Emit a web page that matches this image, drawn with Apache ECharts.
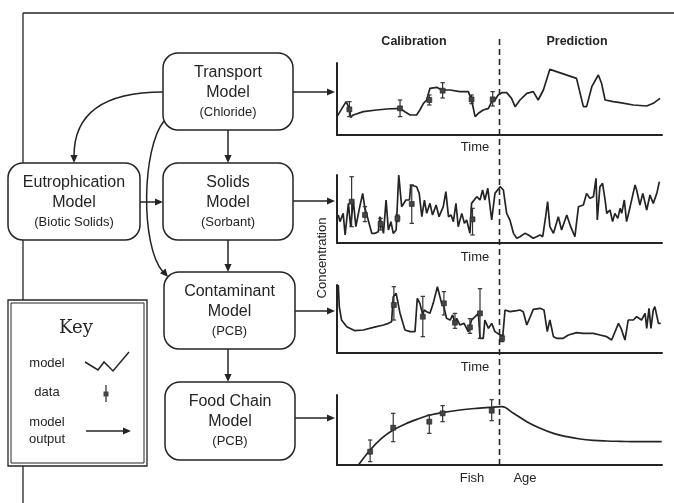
<!DOCTYPE html>
<html><head><meta charset="utf-8">
<script src="https://cdn.jsdelivr.net/npm/echarts@6/dist/echarts.min.js"></script>
<style>html,body{margin:0;padding:0;background:#fff}#c{width:674px;height:503px}</style>
</head><body><div id="c"></div>
<script>
// ---- data (time scale 0..100, concentration 0..100) ----
const DIVIDE_AT = 50;
const transportModel = [[0,25.5],[2.8,46.3],[3.8,37],[4.2,24.5],[5,27.8],[8.1,32.4],[12.2,34.7],[15.3,36.1],[19.4,37],[20.9,32.4],[22.5,27.8],[24.5,27.8],[25.5,34.7],[26.6,44],[27.6,48.6],[28.6,64.8],[30.7,66.2],[32.2,62.5],[34.8,62.5],[37.8,60.2],[40.4,60.2],[41.4,48.6],[42.5,25.5],[43.5,30.1],[45,34.7],[46.6,37],[47.6,46.3],[48.6,48.6],[49.6,55.6],[50.7,58.8],[52.2,58.8],[53.7,50.9],[54.8,39.4],[56.3,48.6],[58.4,57.9],[60.4,60.2],[61.9,48.6],[63.5,62.5],[65.5,91.2],[73.7,78.7],[75.8,39.4],[76.8,39.4],[78.4,67.1],[80.4,83.3],[81.4,71.8],[82.5,48.6],[85,46.3],[87.1,44.9],[91.2,41.7],[95.3,40.3],[97.3,44],[99.4,50.9]];
const transportData = [[3.8,35.6,25.5,46.3],[19.4,37,25.5,48.6],[28.4,48.6,41.7,55.6],[32.5,61.6,51.4,72.7],[41.4,49.5,43.5,55.6],[47.9,49.5,40.3,60.2]];

const solidsModel = [[0.4,41.2],[0.9,31.4],[1.9,43.6],[2.5,11.8],[3.5,58.3],[4.2,24],[5,63.2],[5.8,24],[6.9,51],[7.9,73],[8.6,51],[9.6,33.8],[10.7,14.2],[11.7,14.2],[12.7,16.7],[13.2,38.7],[14.3,14.2],[15.1,63.2],[15.8,19.1],[16.6,31.4],[17.3,14.2],[18.2,19.1],[19,100],[19.9,53.4],[21.2,63.2],[22.3,63.2],[22.7,85.3],[24.5,82.8],[25.3,73],[26.1,38.7],[26.9,63.2],[27.6,43.6],[28.6,58.3],[29.4,41.2],[30.5,55.9],[31.4,38.7],[32.7,53.4],[33.5,75.5],[34.3,38.7],[35.1,41.2],[35.8,31.4],[36.6,58.3],[37.3,24],[38.4,43.6],[39.2,28.9],[39.9,33.8],[40.9,14.2],[41.4,58.3],[43,68.1],[44,63.2],[44.8,77.9],[45.5,63.2],[46.4,80.4],[47.6,33.8],[48.6,73],[50.2,82.8],[51.2,77.9],[52.2,43.6],[53.2,33.8],[54.3,14.2],[55.3,6.9],[56.3,9.3],[57.8,14.2],[58.9,11.8],[60.4,6.9],[62.5,11.8],[63.3,9.3],[64.2,38.7],[64.8,60.8],[65.5,24],[66.6,14.2],[68.1,38.7],[69.1,19.1],[70.7,41.2],[71.9,24],[73.2,9.3],[74.3,53.4],[75.8,55.9],[76.8,73],[77.8,65.7],[78.9,68.1],[79.7,95.1],[80.1,33.8],[80.9,82.8],[81.7,87.7],[82.5,63.2],[83,43.6],[84,48.5],[84.8,31.4],[85.5,43.6],[86.4,36.3],[87.1,51],[87.6,43.6],[88.4,63.2],[89.1,31.4],[90.2,53.4],[91.7,85.3],[92.2,77.9],[93.2,55.9],[94.1,73],[95.3,48.5],[96.3,70.6],[97.3,58.3],[98.4,73],[99.2,90.2]];
const solidsData = [[4.5,60.8,24,97.5],[8.6,41.2,31.4,53.4],[13.4,27.9,19.1,36.3],[18.6,36.3,31.4,41.2],[23,57.4,28.9,85.3],[41.7,34.8,11.8,51]];

const pcbModel = [[0.4,100],[0.7,68.1],[1.4,48.5],[3,38.7],[5.5,32.8],[8.1,33.8],[11.2,37.7],[14.3,41.2],[15.8,43.6],[16.8,46.1],[17.3,82.8],[18.2,87.7],[19.4,58.3],[20.9,33.8],[22.5,31.4],[24,31.4],[24.7,80.4],[25.5,73],[26.4,55.9],[26.8,63.2],[27.6,60.8],[28.6,58.3],[29.6,73],[30.9,97.5],[32.2,73],[32.9,68.1],[33.7,51],[34.8,48.5],[35.6,55.9],[36.3,43.6],[36.8,51],[37.8,41.2],[39.1,43.6],[40.4,31.4],[41.4,48.5],[42.5,53.4],[43.5,58.3],[44,21.6],[45,21.6],[45.5,48.5],[46.6,36.3],[47.6,43.6],[48.6,31.4],[50.2,26.5],[51,24],[51.7,63.2],[53.2,60.8],[55.3,62.3],[56.3,63.2],[57.3,60.8],[58.4,41.2],[60.4,64.2],[62.5,65.7],[63.7,63.2],[64.7,31.4],[65.5,48.5],[66.6,24],[67.6,21.6],[69.6,21.6],[71.2,26.5],[73.7,29.9],[75.8,28.9],[78.9,28.9],[80.9,26.5],[83,24],[84.5,19.1],[86.6,43.6],[87.4,36.3],[88.6,19.1],[89.6,48.5],[91.2,48.5],[92.2,53.4],[93.7,48.5],[94.8,58.3],[95.3,36.3],[96,65.7],[96.6,36.3],[97.3,63.2],[97.8,68.1],[98.9,43.6],[99.6,43.6]];
const pcbData = [[17.5,70.6,48.5,97.5],[26.4,53.4,24,83.3],[32.9,73,55.9,90.2],[36.3,44.6,36.3,58.3],[40.9,37.7,28.9,50.5],[44,58.3,21.6,94.6],[50.8,21.6,16.7,26.5]];

const fishModel = [[6.6,0],[10.2,21.4],[13.7,38.1],[17.3,50],[21.4,59.5],[25.5,66.7],[28.6,71.4],[32.7,75.2],[37.8,78.6],[43,81],[47.1,82.4],[50.7,83.3],[54.3,73.8],[58.4,61.9],[62.5,52.4],[66.6,45.2],[70.7,40.5],[74.8,37.1],[78.9,35.2],[83,34.3],[87.1,33.8],[92.2,33.3],[99.9,33.3]];
const fishData = [[10.2,19,4.8,35.7],[17.3,53.3,33.3,73.8],[28.4,61.9,45.2,71.4],[32.5,73.8,61.9,84.8],[47.6,77.6,63.3,93.3]];

const panelLabels = ['Time','Time','Time'];
const INK = '#242424';
const SANS = '"Liberation Sans", Arial, sans-serif';

// ---- layout ----
const G = [
  {left:337, top:63, width:325, height:72},
  {left:337, top:175, width:325, height:68},
  {left:337, top:285, width:325, height:68},
  {left:337, top:395, width:325, height:70},
  {left:337, top:35, width:325, height:430}
];
const models = [transportModel, solidsModel, pcbModel, fishModel];
const datas = [transportData, solidsData, pcbData, fishData];

function errRender(params, api){
  const x = api.value(0), y = api.value(1), lo = api.value(2), hi = api.value(3);
  const p = api.coord([x,y]), pl = api.coord([x,lo]), ph = api.coord([x,hi]);
  const cap = 2.2, s = 2.5, st = {stroke:'#333', lineWidth:1.2};
  return {type:'group', children:[
    {type:'line', shape:{x1:p[0],y1:pl[1],x2:p[0],y2:ph[1]}, style:st},
    {type:'line', shape:{x1:p[0]-cap,y1:pl[1],x2:p[0]+cap,y2:pl[1]}, style:st},
    {type:'line', shape:{x1:p[0]-cap,y1:ph[1],x2:p[0]+cap,y2:ph[1]}, style:st},
    {type:'rect', shape:{x:p[0]-s,y:p[1]-s,width:2*s,height:2*s}, style:{fill:'#444', stroke:'#222', lineWidth:0.6}}
  ]};
}

const xAxis = [], yAxis = [], series = [];
G.forEach((g,i)=>{
  const vis = i < 4;
  xAxis.push({gridIndex:i, type:'value', min:0, max:100, show:vis,
    axisLine:{show:vis, lineStyle:{color:INK, width:2}}, axisTick:{show:false}, axisLabel:{show:false}, splitLine:{show:false}});
  yAxis.push({gridIndex:i, type:'value', min:0, max:(i<4?100:1), show:vis,
    axisLine:{show:vis, lineStyle:{color:INK, width:2}}, axisTick:{show:false}, axisLabel:{show:false}, splitLine:{show:false}});
});
models.forEach((m,i)=>{
  series.push({type:'line', xAxisIndex:i, yAxisIndex:i, data:m, symbol:'none', smooth: i===3 ? 0.4 : false,
    lineStyle:{color:INK, width:1.7}, silent:true, animation:false, z:3});
  series.push({type:'custom', xAxisIndex:i, yAxisIndex:i, data:datas[i], renderItem:errRender, encode:{x:0,y:1}, animation:false, z:4});
});
series.push({type:'line', xAxisIndex:4, yAxisIndex:4, data:[[DIVIDE_AT,0],[DIVIDE_AT,1]], symbol:'none',
  lineStyle:{color:INK, width:1.6, type:[6,4]}, animation:false, z:5});

// ---- flowchart graphics ----
function txt(t, x, y, size, extra){
  return {type:'text', x, y, z:20, style:Object.assign({text:t, fill:INK, font: size+'px '+SANS,
    align:'center', verticalAlign:'middle', textAlign:'center', textVerticalAlign:'middle'}, extra||{})};
}
function seg(x1,y1,x2,y2,w){ return {type:'line', z:8, shape:{x1,y1,x2,y2}, style:{stroke:INK, lineWidth:w||1.5}}; }
function head(x,y,ang){
  const L=8, W=3.6, bx=x-L*Math.cos(ang), by=y-L*Math.sin(ang), px=-Math.sin(ang)*W, py=Math.cos(ang)*W;
  return {type:'polygon', z:9, shape:{points:[[x,y],[bx+px,by+py],[bx-px,by-py]]}, style:{fill:INK}};
}
function arrow(x1,y1,x2,y2){ const a=Math.atan2(y2-y1,x2-x1); return [seg(x1,y1,x2-4*Math.cos(a),y2-4*Math.sin(a)), head(x2,y2,a)]; }
function box(x,y,w,h,lines){
  const cx = x + w/2, offs=[19.5,40,59.5];
  const els = [{type:'rect', z:10, shape:{x,y,width:w,height:h,r:15}, style:{fill:'#fff', stroke:INK, lineWidth:1.5}}];
  lines.forEach((l,k)=>els.push(txt(l[0], cx, y+offs[k], l[1])));
  return els;
}
const graphic = [].concat(
  [seg(23,13,674,13,1.3), seg(23,13,23,503,1.3)],
  box(163,53,130,77,[['Transport',16],['Model',16],['(Chloride)',13]]),
  box(8,163,132,77,[['Eutrophication',16],['Model',16],['(Biotic Solids)',13]]),
  box(163,163,130,77,[['Solids',16],['Model',16],['(Sorbant)',13]]),
  box(164,272,131,77,[['Contaminant',16],['Model',16],['(PCB)',13]]),
  box(165,382,130,78,[['Food Chain',16],['Model',16],['(PCB)',13]]),
  arrow(228,130,228,163), arrow(228,240,228,272), arrow(228,349,228,382), arrow(140,202,163,202),
  arrow(293,92,335,92), arrow(293,201,335,201), arrow(295,311,335,311), arrow(295,418,335,418),
  [{type:'bezierCurve', z:8, shape:{x1:163,y1:92,cpx1:105,cpy1:92,cpx2:74,cpy2:112,x2:74,y2:156}, style:{stroke:INK,lineWidth:1.5,fill:null}},
   head(74,163,Math.PI/2),
   {type:'bezierCurve', z:8, shape:{x1:164,y1:121,cpx1:142,cpy1:148,cpx2:140,cpy2:245,x2:163,y2:272}, style:{stroke:INK,lineWidth:1.5,fill:null}},
   head(168,277,Math.atan2(7,6))],
  // key
  [{type:'rect', z:10, shape:{x:8,y:300,width:139,height:166}, style:{fill:'#fff', stroke:INK, lineWidth:1.3}},
   {type:'rect', z:11, shape:{x:11,y:303,width:133,height:160}, style:{fill:'#fff', stroke:INK, lineWidth:1}},
   txt('Key',76,328,18,{font:'18px "DejaVu Serif", serif'}),
   txt('model',47,363,13), txt('data',47,392,13), txt('model',47,422,13), txt('output',47,439,13),
   {type:'polyline', z:20, shape:{points:[[85,362],[98,370],[104,362],[113,371],[129,352]]}, style:{stroke:INK,lineWidth:1.5,fill:null}},
   {type:'line', z:20, shape:{x1:106,y1:385,x2:106,y2:402}, style:{stroke:INK,lineWidth:1.2}},
   {type:'rect', z:21, shape:{x:103.5,y:391.5,width:5,height:5}, style:{fill:'#444'}}],
  arrow(86,431,131,431).map(e=>Object.assign(e,{z:20})),
  // chart labels
  [txt('Calibration',414,42,12.5,{font:'bold 12.5px '+SANS}), txt('Prediction',577,42,12.5,{font:'bold 12.5px '+SANS}),
   txt(panelLabels[0],475,147,13), txt(panelLabels[1],475,257,13), txt(panelLabels[2],475,367,13),
   txt('Fish',472,478,13), txt('Age',525,478,13),
   {type:'text', x:322, y:258, rotation:Math.PI/2, z:20, style:{text:'Concentration', fill:INK, font:'13px '+SANS,
     align:'center', verticalAlign:'middle', textAlign:'center', textVerticalAlign:'middle'}}]
);

const chart = echarts.init(document.getElementById('c'));
chart.setOption({animation:false, backgroundColor:'#fff', grid:G, xAxis, yAxis, series, graphic});
</script></body></html>
